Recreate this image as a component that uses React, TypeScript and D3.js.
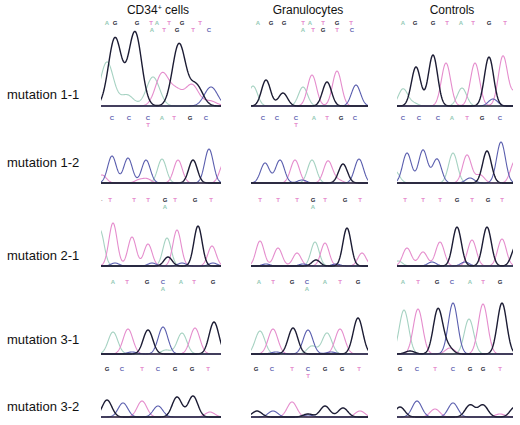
import * as d3 from "d3"

type Base = "A" | "C" | "G" | "T"
type Peak = [number, number, Base]
type Call = [number, string]

const columnTitles = ["CD34", "Granulocytes", "Controls"]
const mutations = ["mutation 1-1", "mutation 1-2", "mutation 2-1", "mutation 3-1", "mutation 3-2"]

// peaks: [scan position, signal, base]
const m11Cd34: Peak[] = [[6, 44, "A"], [14, 68, "G"], [26, 11, "A"], [34, 74, "G"], [52, 29, "A"], [61, 32, "T"], [75, 15, "T"], [78, 62, "G"], [91, 21, "T"], [95, 21, "G"], [109, 5, "T"], [110, 19, "C"]]
const m11Gran: Peak[] = [[2, 20, "A"], [15, 26, "G"], [32, 13, "G"], [52, 19, "A"], [61, 31, "T"], [76, 24, "G"], [86, 35, "T"], [105, 21, "C"]]
const m11Ctrl: Peak[] = [[6, 17, "A"], [16, 3, "A"], [19, 39, "G"], [36, 51, "G"], [49, 43, "T"], [65, 18, "A"], [78, 43, "T"], [92, 49, "G"], [96, 7, "C"], [106, 50, "T"], [119, 14, "T"]]

const m12Cd34: Peak[] = [[1, 8, "T"], [11, 27, "C"], [27, 25, "C"], [38, 3, "T"], [45, 23, "C"], [46, 4, "T"], [61, 24, "A"], [77, 23, "T"], [92, 23, "G"], [108, 34, "C"], [123, 20, "T"]]
const m12Gran: Peak[] = [[14, 20, "C"], [29, 23, "C"], [44, 23, "T"], [51, 3, "C"], [61, 23, "A"], [77, 22, "T"], [87, 3, "T"], [92, 19, "G"], [108, 24, "C"]]
const m12Ctrl: Peak[] = [[-2, 12, "A"], [10, 30, "C"], [26, 33, "C"], [40, 24, "C"], [56, 30, "A"], [70, 28, "T"], [73, 5, "C"], [83, 8, "T"], [90, 32, "G"], [104, 41, "C"], [118, 22, "T"]]

const m21Cd34: Peak[] = [[-1, 36, "A"], [12, 43, "T"], [14, 3, "C"], [31, 29, "T"], [47, 22, "T"], [51, 3, "C"], [66, 28, "A"], [67, 9, "G"], [76, 36, "T"], [81, 3, "C"], [97, 40, "G"], [111, 20, "T"], [112, 3, "C"]]
const m21Gran: Peak[] = [[9, 25, "T"], [15, 2, "C"], [27, 18, "T"], [46, 13, "T"], [52, 2, "C"], [64, 24, "A"], [65, 6, "G"], [74, 23, "T"], [85, 2, "C"], [96, 38, "G"], [111, 13, "T"]]
const m21Ctrl: Peak[] = [[1, 5, "A"], [10, 18, "T"], [26, 14, "T"], [35, 4, "C"], [43, 24, "T"], [60, 39, "G"], [68, 4, "C"], [75, 26, "T"], [90, 39, "G"], [105, 27, "T"], [119, 20, "G"]]

const m31Cd34: Peak[] = [[12, 22, "A"], [27, 25, "T"], [31, 2, "C"], [47, 24, "G"], [62, 27, "C"], [65, 4, "A"], [81, 21, "A"], [94, 26, "T"], [113, 32, "G"]]
const m31Gran: Peak[] = [[9, 23, "A"], [22, 25, "T"], [25, 2, "C"], [42, 26, "G"], [57, 24, "C"], [61, 8, "A"], [76, 21, "A"], [80, 2, "C"], [89, 25, "T"], [107, 36, "G"]]
const m31Ctrl: Peak[] = [[7, 44, "A"], [13, 3, "G"], [21, 45, "T"], [41, 45, "G"], [51, 7, "G"], [53, 6, "T"], [56, 51, "C"], [72, 35, "A"], [86, 50, "T"], [105, 51, "G"]]

const m32Cd34: Peak[] = [[6, 17, "G"], [22, 14, "C"], [41, 16, "T"], [57, 11, "C"], [76, 20, "G"], [92, 21, "G"], [109, 5, "T"]]
const m32Gran: Peak[] = [[6, 6, "G"], [22, 6, "C"], [41, 15, "T"], [57, 3, "G"], [57, 2, "C"], [74, 11, "G"], [92, 9, "G"], [109, 6, "T"]]
const m32Ctrl: Peak[] = [[3, 10, "G"], [20, 16, "C"], [38, 8, "T"], [56, 14, "C"], [73, 12, "G"], [86, 12, "G"], [103, 3, "T"], [118, 10, "G"]]

// base calls printed above each trace: [scan position, letter]
const m11Cd34Calls: Call[] = [[6, "A"], [14, "G"], [36, "G"], [50, "T"], [56, "A"], [68, "T"], [81, "G"], [99, "T"]]
const m11Cd34Alt: Call[] = [[51, "A"], [63, "T"], [76, "G"], [92, "T"], [108, "C"]]
const m11GranCalls: Call[] = [[7, "A"], [20, "G"], [33, "G"], [52, "T"], [59, "A"], [72, "T"], [86, "G"], [100, "T"]]
const m11GranAlt: Call[] = [[52, "A"], [62, "T"], [72, "G"], [86, "T"], [101, "C"]]
const m11CtrlCalls: Call[] = [[6, "A"], [18, "G"], [36, "G"], [50, "T"], [64, "A"], [76, "T"], [92, "G"], [108, "T"]]

const m12Cd34Calls: Call[] = [[11, "C"], [28, "C"], [47, "C"], [61, "A"], [73, "T"], [89, "G"], [105, "C"]]
const m12Cd34Alt: Call[] = [[47, "T"]]
const m12GranCalls: Call[] = [[12, "C"], [26, "C"], [45, "C"], [63, "A"], [76, "T"], [90, "G"], [104, "C"]]
const m12GranAlt: Call[] = [[45, "T"]]
const m12CtrlCalls: Call[] = [[6, "C"], [22, "C"], [41, "C"], [55, "A"], [70, "T"], [85, "G"], [103, "C"]]

const m21Cd34Calls: Call[] = [[1, "·"], [9, "T"], [33, "T"], [47, "T"], [64, "G"], [74, "T"], [94, "G"], [110, "T"]]
const m21Cd34Alt: Call[] = [[64, "A"]]
const m21GranCalls: Call[] = [[9, "T"], [27, "T"], [46, "T"], [62, "G"], [74, "T"], [94, "G"], [109, "T"]]
const m21GranAlt: Call[] = [[62, "A"]]
const m21CtrlCalls: Call[] = [[8, "T"], [26, "T"], [43, "T"], [60, "G"], [75, "T"], [91, "G"], [105, "T"]]

const m31Cd34Calls: Call[] = [[12, "A"], [26, "T"], [46, "G"], [62, "C"], [80, "A"], [93, "T"], [112, "G"]]
const m31Cd34Alt: Call[] = [[62, "A"]]
const m31GranCalls: Call[] = [[8, "A"], [22, "T"], [41, "G"], [56, "C"], [74, "A"], [89, "T"], [107, "G"]]
const m31GranAlt: Call[] = [[56, "A"]]
const m31CtrlCalls: Call[] = [[6, "A"], [21, "T"], [40, "G"], [55, "C"], [73, "A"], [86, "T"], [103, "G"]]

const m32Cd34Calls: Call[] = [[6, "G"], [21, "C"], [41, "T"], [57, "C"], [74, "G"], [91, "G"], [107, "T"]]
const m32GranCalls: Call[] = [[5, "G"], [21, "C"], [41, "T"], [57, "C"], [74, "G"], [91, "G"], [108, "T"]]
const m32GranAlt: Call[] = [[57, "T"]]
const m32CtrlCalls: Call[] = [[3, "G"], [20, "C"], [38, "T"], [56, "C"], [73, "G"], [86, "G"], [103, "T"]]

const peaks = [
  [m11Cd34, m11Gran, m11Ctrl],
  [m12Cd34, m12Gran, m12Ctrl],
  [m21Cd34, m21Gran, m21Ctrl],
  [m31Cd34, m31Gran, m31Ctrl],
  [m32Cd34, m32Gran, m32Ctrl],
]
const calls = [
  [m11Cd34Calls, m11GranCalls, m11CtrlCalls],
  [m12Cd34Calls, m12GranCalls, m12CtrlCalls],
  [m21Cd34Calls, m21GranCalls, m21CtrlCalls],
  [m31Cd34Calls, m31GranCalls, m31CtrlCalls],
  [m32Cd34Calls, m32GranCalls, m32CtrlCalls],
]
const altCalls = [
  [m11Cd34Alt, m11GranAlt, []],
  [m12Cd34Alt, m12GranAlt, []],
  [m21Cd34Alt, m21GranAlt, []],
  [m31Cd34Alt, m31GranAlt, []],
  [[], m32GranAlt, []],
] as Call[][][]

// peak width per panel (scan units)
const spread = [
  [6.5, 4.5, 4.6],
  [4.3, 4.4, 4.4],
  [4.1, 4.1, 4.3],
  [4.8, 4.8, 4.7],
  [4.8, 4.8, 4.8],
]

// layout
const colX0 = [101, 251, 397]
const colX1 = [221, 368, 513]
const titleX = [158, 308, 452]
const baselineY = [106, 183, 266, 354, 417]
const callY = [23, 118, 200, 282, 369]
const labelY = [99, 167, 260, 344, 411]

const traceColor: Record<Base, string> = { A: "#a6d2c2", C: "#5a5eae", G: "#1c1c34", T: "#e58dcd" }
const callColor: Record<string, string> = { A: "#93c9b5", C: "#6466b2", G: "#2a2a3a", T: "#e58acb", "·": "#999" }
const drawOrder: Base[] = ["A", "T", "C", "G"]

const FONT = "'Liberation Sans', Arial, Helvetica, sans-serif"

function Panel({ r, c }: { r: number; c: number }) {
  const x0 = colX0[c]
  const x1 = colX1[c]
  const span = x1 - x0
  const x = d3.scaleLinear().domain([0, span]).range([x0, x1])
  const y = d3.scaleLinear().domain([0, 100]).range([baselineY[r], baselineY[r] - 100])
  const sig = spread[r][c]
  const samples = d3.range(-3, span + 3.01, 0.5)
  const line = d3
    .line<[number, number]>()
    .x(d => x(d[0]))
    .y(d => y(d[1]))
  const clipId = `clip-${r}-${c}`
  const panelPeaks = peaks[r][c]

  return (
    <g>
      <defs>
        <clipPath id={clipId}>
          <rect x={x0} y={0} width={span} height={425} />
        </clipPath>
      </defs>
      <g clipPath={`url(#${clipId})`}>
        {drawOrder.map(b => {
          const ps = panelPeaks.filter(p => p[2] === b)
          if (!ps.length) return null
          // trace of one dye: sum of its peaks
          const pts = samples.map(s => [
            s,
            d3.sum(ps, p => p[1] * Math.exp(-((s - p[0]) ** 2) / (2 * sig * sig))),
          ]) as [number, number][]
          return (
            <path
              key={b}
              d={line(pts) || ""}
              fill="none"
              stroke={traceColor[b]}
              strokeWidth={b === "G" ? 1.4 : 1.1}
              strokeLinejoin="round"
            />
          )
        })}
      </g>
      <line x1={x0} x2={x1} y1={baselineY[r]} y2={baselineY[r]} stroke="#23233a" strokeWidth={1.5} />
      {calls[r][c].map((d, i) => (
        <text key={"c" + i} x={x(d[0])} y={callY[r] + 2} textAnchor="middle" fontSize={6} fontWeight="bold" fill={callColor[d[1]]}>
          {d[1]}
        </text>
      ))}
      {altCalls[r][c].map((d, i) => (
        <text key={"a" + i} x={x(d[0])} y={callY[r] + 9} textAnchor="middle" fontSize={6} fontWeight="bold" fill={callColor[d[1]]}>
          {d[1]}
        </text>
      ))}
    </g>
  )
}

export default function App() {
  return (
    <svg
      width={520}
      height={425}
      style={{ position: "absolute", left: 0, top: 0, background: "#fff" }}
      fontFamily={FONT}
    >
      <rect width={520} height={425} fill="#fff" />
      {columnTitles.map((t, i) => (
        <text key={t} x={titleX[i]} y={14} textAnchor="middle" fontSize={12} fill="#111">
          {i === 0 ? (
            <>
              CD34<tspan fontSize={7} dy={-4}>+</tspan>
              <tspan dy={4}> cells</tspan>
            </>
          ) : (
            t
          )}
        </text>
      ))}
      {mutations.map((m, r) => (
        <text key={m} x={7} y={labelY[r]} fontSize={13} fill="#111">
          {m}
        </text>
      ))}
      {mutations.map((m, r) =>
        colX0.map((_, c) => <Panel key={`${m}-${c}`} r={r} c={c} />)
      )}
    </svg>
  )
}
